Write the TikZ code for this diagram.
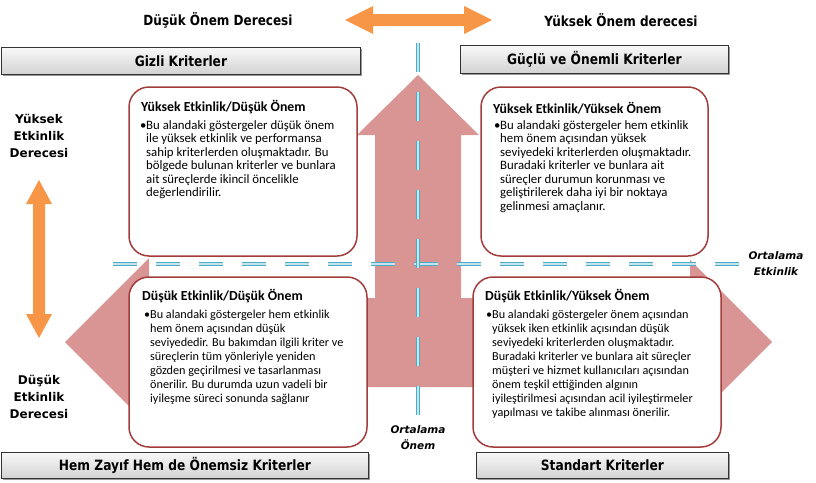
\documentclass[tikz,border=0pt]{standalone}
\usepackage{fontspec}
\setmainfont{Carlito}
\newfontfamily\labf{DejaVu Sans}[FakeStretch=0.86]
\newfontfamily\verdf{DejaVu Sans}
\usetikzlibrary{shadows}
\definecolor{pinkf}{HTML}{D99594}
\definecolor{boxred}{HTML}{A33D3B}
\definecolor{orng}{HTML}{F79646}
\definecolor{dblue}{HTML}{4BACC6}
\definecolor{lblue}{HTML}{C5E5EE}
\begin{document}
\begin{tikzpicture}[x=1pt,y=-1pt,
 quad/.style={draw=boxred, line width=1.5pt, fill=white, rounded corners=20pt, inner sep=0pt},
 headtxt/.style={font=\fontsize{13.8}{16}\selectfont\bfseries, anchor=west, inner sep=0pt},
 bodyA/.style={font=\fontsize{12.8}{13.5}\selectfont, anchor=north west, align=left, inner sep=0pt},
 bodyB/.style={font=\fontsize{12.2}{14}\selectfont, anchor=north west, align=left, inner sep=0pt},
 bar/.style={draw=black!80, line width=0.8pt, top color=gray!5, bottom color=gray!35,
   drop shadow={shadow xshift=2pt, shadow yshift=-2pt, opacity=0.4, fill=black},
   font=\labf\bfseries\fontsize{14.2}{16}\selectfont, inner sep=0pt, anchor=north west},
 dashline/.style={draw=dblue, line width=1.5pt, double=lblue, double distance=1.1pt},
 lab/.style={font=\labf\bfseries\fontsize{14}{16}\selectfont, inner sep=0pt},
 side/.style={font=\verdf\bfseries\fontsize{12}{17}\selectfont, align=center, inner sep=0pt},
 avg/.style={font=\verdf\bfseries\itshape\fontsize{10.5}{16}\selectfont, align=center, inner sep=0pt},
]
\useasboundingbox (0,0) rectangle (816,482);

% pink three-way arrow
\fill[pinkf] (65,342) -- (149,258) -- (149,298) -- (375,298) -- (375,135) -- (357,135)
  -- (418,75) -- (479,135) -- (461,135) -- (461,298) -- (690,298) -- (690,260)
  -- (772,342) -- (690,424) -- (690,387) -- (149,387) -- (149,426) -- cycle;

% orange arrows
\fill[orng] (345,20) -- (373,6) -- (373,14) -- (464,14) -- (464,6) -- (492,20)
  -- (464,34) -- (464,26) -- (373,26) -- (373,34) -- cycle;
\fill[orng] (39,180) -- (52,204) -- (45,204) -- (45,314) -- (52,314) -- (39,338)
  -- (26,314) -- (33,314) -- (33,204) -- (26,204) -- cycle;

% header bars
\node[bar, minimum width=359pt, minimum height=27pt] (gizli) at (1,47) {Gizli Kriterler};
\node[bar, minimum width=268pt, minimum height=28pt] (guclu) at (460,45) {Güçlü ve Önemli Kriterler};
\node[bar, minimum width=367pt, minimum height=26pt] (zayif) at (1,452) {Hem Zayıf Hem de Önemsiz Kriterler};
\node[bar, minimum width=252pt, minimum height=26pt] (standart) at (476,452) {Standart Kriterler};

% quadrant boxes
\node[quad, minimum width=228pt, minimum height=169pt] (tl) at (243,171.5) {};
\node[quad, minimum width=227pt, minimum height=169pt] (tr) at (594.5,171.5) {};
\node[quad, minimum width=238pt, minimum height=170pt] (bl) at (248,362) {};
\node[quad, minimum width=248pt, minimum height=170pt] (br) at (597,362) {};

% dashed axes
\coordinate (hA) at (113,264);
\coordinate (hB) at (740,264);
\coordinate (vA) at (418,43);
\coordinate (vB) at (418,415);
\draw[dashline, dash pattern=on 24pt off 19pt] (hA) -- (hB);
\draw[dashline, dash pattern=on 29pt off 20pt] (vA) -- (vB);

% quadrant texts
\node[headtxt] (tlh) at (141,107) {Yüksek Etkinlik/Düşük Önem};
\node[bodyA] (tlb) at (140,120) {\makebox[6pt][l]{•}Bu alandaki göstergeler düşük önem\\
\hspace*{6pt}ile yüksek etkinlik ve performansa\\
\hspace*{6pt}sahip kriterlerden oluşmaktadır. Bu\\
\hspace*{6pt}bölgede bulunan kriterler ve bunlara\\
\hspace*{6pt}ait süreçlerde ikincil öncelikle\\
\hspace*{6pt}değerlendirilir.};

\node[headtxt] (trh) at (493,108) {Yüksek Etkinlik/Yüksek Önem};
\node[bodyA] (trb) at (494,120) {\makebox[6pt][l]{•}Bu alandaki göstergeler hem etkinlik\\
\hspace*{6pt}hem önem açısından yüksek\\
\hspace*{6pt}seviyedeki kriterlerden oluşmaktadır.\\
\hspace*{6pt}Buradaki kriterler ve bunlara ait\\
\hspace*{6pt}süreçler durumun korunması ve\\
\hspace*{6pt}geliştirilerek daha iyi bir noktaya\\
\hspace*{6pt}gelinmesi amaçlanır.};

\node[headtxt] (blh) at (142,296) {Düşük Etkinlik/Düşük Önem};
\node[bodyB] (blb) at (144,310) {\makebox[6pt][l]{•}Bu alandaki göstergeler hem etkinlik\\
\hspace*{6pt}hem önem açısından düşük\\
\hspace*{6pt}seviyededir. Bu bakımdan ilgili kriter ve\\
\hspace*{6pt}süreçlerin tüm yönleriyle yeniden\\
\hspace*{6pt}gözden geçirilmesi ve tasarlanması\\
\hspace*{6pt}önerilir. Bu durumda uzun vadeli bir\\
\hspace*{6pt}iyileşme süreci sonunda sağlanır};

\node[headtxt] (brh) at (485,296) {Düşük Etkinlik/Yüksek Önem};
\node[bodyB] (brb) at (486,310) {\makebox[6pt][l]{•}Bu alandaki göstergeler önem açısından\\
\hspace*{6pt}yüksek iken etkinlik açısından düşük\\
\hspace*{6pt}seviyedeki kriterlerden oluşmaktadır.\\
\hspace*{6pt}Buradaki kriterler ve bunlara ait süreçler\\
\hspace*{6pt}müşteri ve hizmet kullanıcıları açısından\\
\hspace*{6pt}önem teşkil ettiğinden algının\\
\hspace*{6pt}iyileştirilmesi açısından acil iyileştirmeler\\
\hspace*{6pt}yapılması ve takibe alınması önerilir.};

% labels
\node[lab] (dusukonem) at (218,20) {Düşük Önem Derecesi};
\node[lab] (yuksekonem) at (621,20) {Yüksek Önem derecesi};
\node[side] (yuksekEt) at (39,136) {Yüksek\\Etkinlik\\Derecesi};
\node[side] (dusukEt) at (39,397) {Düşük\\Etkinlik\\Derecesi};
\node[avg] (ortOnem) at (418,438) {Ortalama\\Önem};
\node[avg] (ortEt) at (776,264) {Ortalama\\Etkinlik};
\end{tikzpicture}
\end{document}
